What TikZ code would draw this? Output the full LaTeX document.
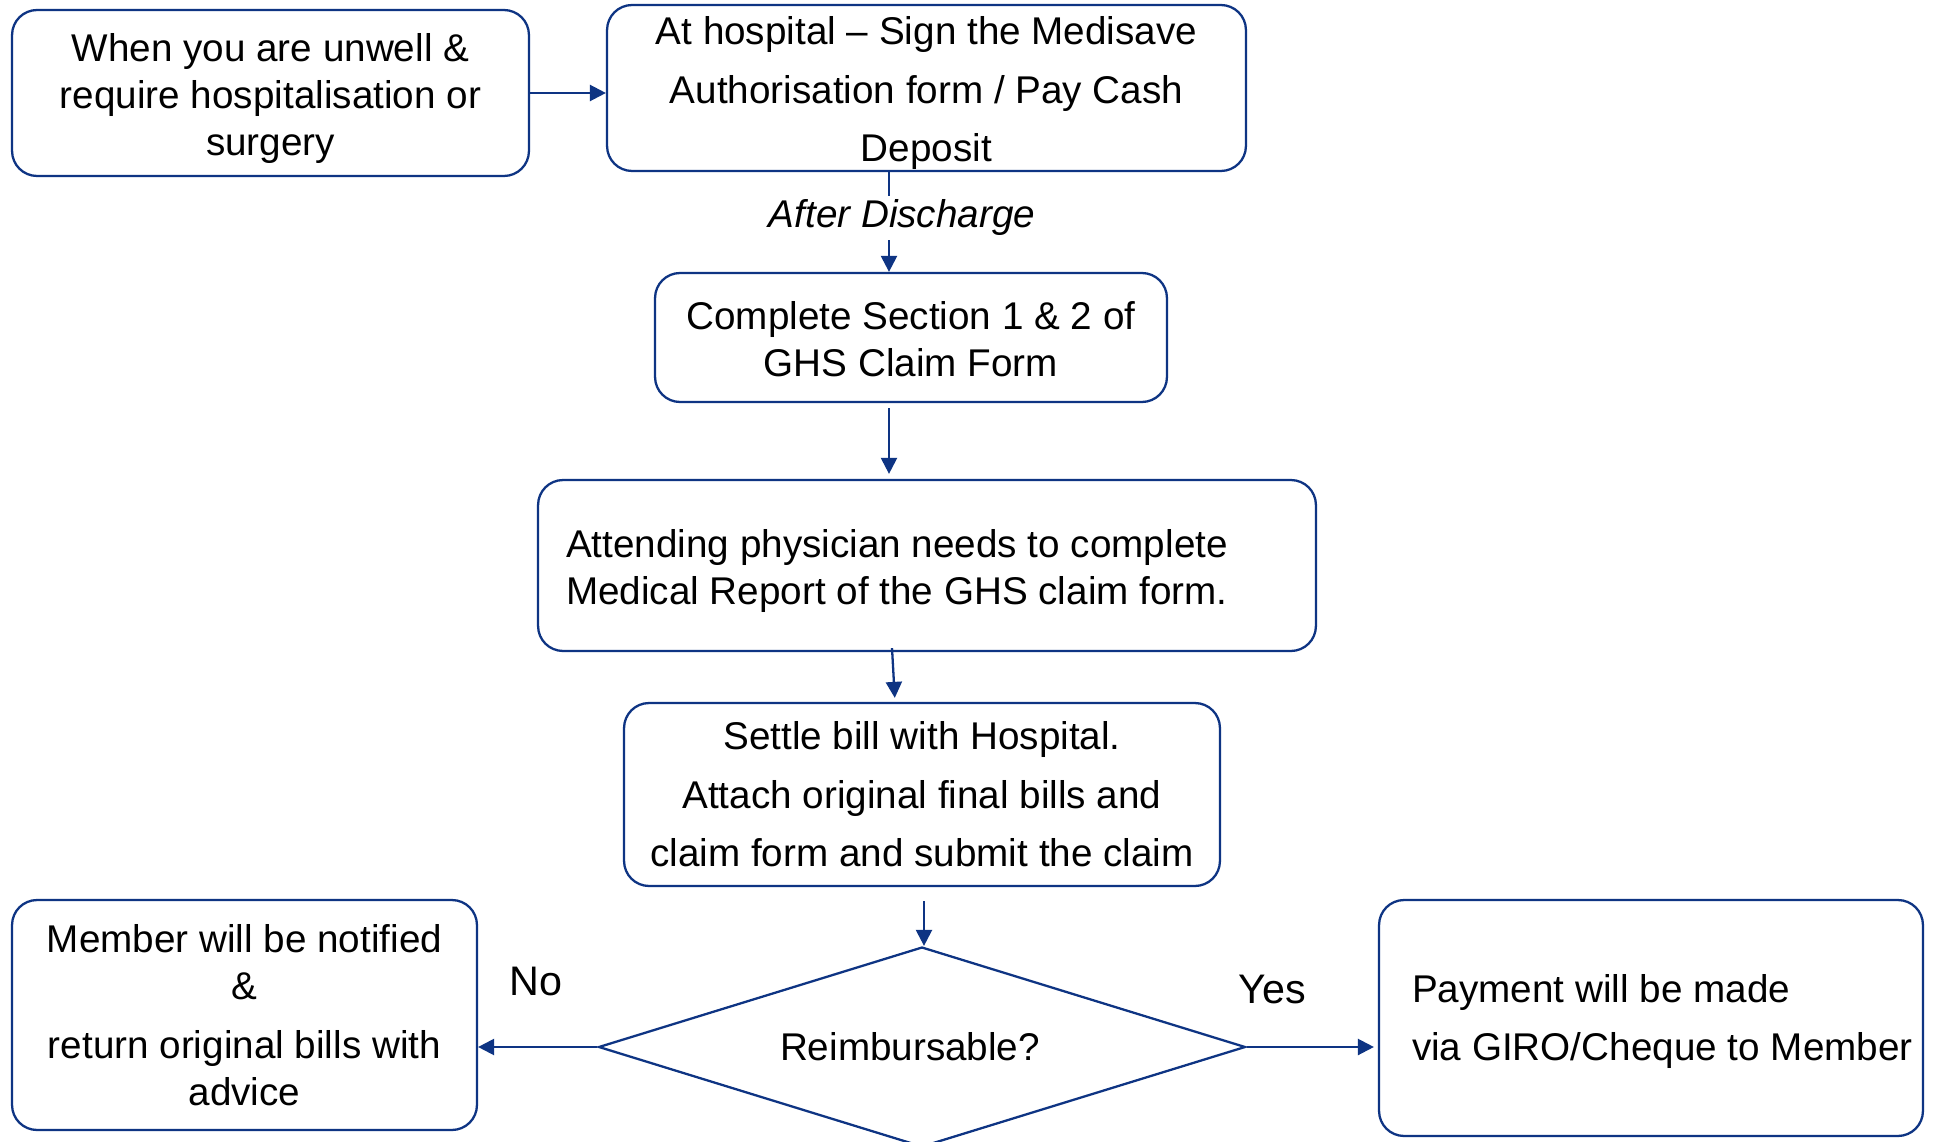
\documentclass[tikz,border=0pt]{standalone}
\usepackage{fontspec}
\setmainfont{Liberation Sans}
\usetikzlibrary{shapes.geometric,arrows.meta}
\definecolor{navy}{HTML}{0E3483}

\begin{document}
\begin{tikzpicture}[x=0.02cm,y=-0.02cm,
  stepbox/.style={draw=navy, line width=1.3pt, rounded corners=0.5cm,
    inner sep=0pt, align=center, font=\fontsize{22}{26.75}\selectfont},
  widelines/.style={font=\fontsize{22}{33.35}\selectfont},
  decision/.style={draw=navy, line width=1.3pt, shape=diamond, inner sep=0pt},
  conn/.style={draw=navy, line width=1.3pt},
  flow/.style={conn, -{Triangle[length=0.32cm,width=0.32cm]}},
  lbl/.style={inner sep=0pt, font=\fontsize{23.5}{28}\selectfont}]

\useasboundingbox (0,0) rectangle (1934,1142);
\fill[white] (0,0) rectangle (1934,1142);
\clip (0,0) rectangle (1934,1142);

% process steps (the leading struts lower the first line a little)
\node[stepbox, minimum width=10.34cm, minimum height=3.32cm] (A) at (270.5,93)
  {\rule{0pt}{22pt}When you are unwell \&\\require hospitalisation or\\surgery};
\node[stepbox, widelines, minimum width=12.78cm, minimum height=3.32cm] (B) at (926.5,88)
  {\rule{0pt}{22pt}At hospital -- Sign the Medisave\\Authorisation form / Pay Cash\\Deposit};
\node[stepbox, minimum width=10.24cm, minimum height=2.58cm] (C) at (911,337.5)
  {\rule{0pt}{18pt}Complete Section 1 \& 2 of\\GHS Claim Form};
\node[stepbox, minimum height=3.42cm, text width=14.44cm, inner xsep=0.56cm, align=flush left] (D) at (927,565.5)
  {\rule{0pt}{22pt}Attending physician needs to complete\\Medical Report of the GHS claim form.};
\node[stepbox, widelines, minimum width=11.92cm, minimum height=3.66cm] (E) at (922,794.5)
  {Settle bill with Hospital.\\Attach original final bills and\\claim form and submit the claim};

% decision and outcomes
\node[decision, minimum width=12.94cm, minimum height=4cm] (dia) at (922,1047) {};
\node[inner sep=0pt, font=\fontsize{22}{26.75}\selectfont] (q) at (910,1047) {Reimbursable?};
\node[stepbox, minimum width=9.30cm, minimum height=4.60cm] (F) at (244.5,1015)
  {Member will be notified\\\&\\[6.6pt]return original bills with\\advice};
\node[stepbox, widelines, minimum height=4.72cm, text width=10.48cm, inner xsep=0.2cm, align=flush left] (G) at (1651,1018)
  {\rule{0pt}{20pt}\hspace*{0.46cm}\mbox{Payment will be made}\\\hspace*{0.46cm}\mbox{via GIRO/Cheque to Member}};

% connector labels
\node[inner sep=0pt, inner ysep=0.08cm, font=\fontsize{22}{26.75}\selectfont\itshape] (disc) at (902,218) {After Discharge};
\node[lbl] (no) at (536,981) {No};
\node[lbl] (yes) at (1272,989) {Yes};

% connectors
\coordinate (ax) at (889,0);
\draw[flow] (A.east) -- (A.east -| B.west);
\draw[conn] (B.south -| ax) -- (disc.north -| ax);
\draw[flow] (disc.south -| ax) -- (C.north -| ax);
\draw[flow, shorten <=0.1cm, shorten >=0.1cm] (C.south -| ax) -- (D.north -| ax);
\draw[flow, shorten >=0.08cm] ([xshift=-0.7cm,yshift=0.08cm]D.south) -- ([xshift=-0.54cm]E.north);
\draw[flow, shorten <=0.28cm] ([xshift=0.04cm]E.south) -- ([xshift=0.04cm]dia.north);
\draw[flow] (dia.west) -- (dia.west -| F.east);
\draw[flow, shorten >=0.08cm] (dia.east) -- (dia.east -| G.west);
\end{tikzpicture}
\end{document}
